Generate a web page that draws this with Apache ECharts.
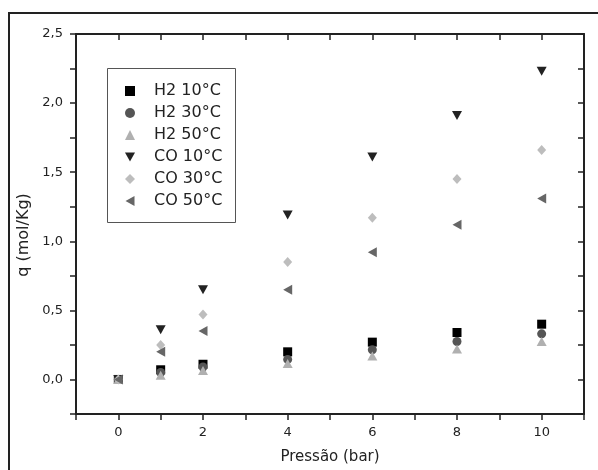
<!DOCTYPE html>
<html>
<head>
<meta charset="utf-8">
<script src="https://cdn.jsdelivr.net/npm/echarts@6/dist/echarts.min.js"></script>
<style>html,body{margin:0;padding:0;background:#fff;}#c{width:598px;height:470px;}</style>
</head>
<body>
<div id="c"></div>
<script>
const pressure = [0, 1, 2, 4, 6, 8, 10];
const h2_10 = [0, 0.07, 0.11, 0.20, 0.27, 0.34, 0.40];
const h2_30 = [0, 0.05, 0.09, 0.145, 0.215, 0.275, 0.33];
const h2_50 = [0, 0.03, 0.065, 0.115, 0.17, 0.22, 0.275];
const co_10 = [0, 0.36, 0.65, 1.19, 1.61, 1.91, 2.23];
const co_30 = [0, 0.25, 0.47, 0.85, 1.17, 1.45, 1.66];
const co_50 = [0, 0.20, 0.35, 0.65, 0.92, 1.12, 1.31];
const seriesNames = ['H2 10°C', 'H2 30°C', 'H2 50°C', 'CO 10°C', 'CO 30°C', 'CO 50°C'];
const xTickLabels = ['0', '2', '4', '6', '8', '10'];
const yTickLabels = ['0,0', '0,5', '1,0', '1,5', '2,0', '2,5'];

const FONT = 'DejaVu Sans';
const pair = arr => pressure.map((p, i) => [p, arr[i]]);

const DOWN = 'path://M0,0 L10,0 L5,9 Z';
const LEFT = 'path://M9,0 L9,10 L0,5 Z';

const styles = [
  {data: h2_10, symbol: 'rect', size: 9, rot: 0, color: '#000000', icon: 'rect'},
  {data: h2_30, symbol: 'circle', size: 9, rot: 0, color: '#555555', icon: 'circle'},
  {data: h2_50, symbol: 'triangle', size: [10, 9], rot: 0, color: '#b0b0b0', icon: 'triangle'},
  {data: co_10, symbol: 'triangle', size: [10, 9], rot: 180, color: '#222222', icon: DOWN},
  {data: co_30, symbol: 'diamond', size: [9, 10], rot: 0, color: '#bdbdbd', icon: 'diamond'},
  {data: co_50, symbol: 'triangle', size: [10, 9], rot: 90, color: '#666666', icon: LEFT}
];

const chart = echarts.init(document.getElementById('c'), null, {renderer: 'canvas'});

const axisLine = {show: true, onZero: false, lineStyle: {color: '#222', width: 2}};
const xLabelFmt = v => {
  const s = String(Math.round(v));
  return (Math.abs(v - Math.round(v)) < 1e-9 && xTickLabels.indexOf(s) >= 0) ? s : '';
};
const yLabelFmt = v => {
  const s = v.toFixed(1).replace('.', ',');
  return (Math.abs(v * 2 - Math.round(v * 2)) < 1e-9 && yTickLabels.indexOf(s) >= 0) ? s : '';
};

chart.setOption({
  backgroundColor: '#ffffff',
  animation: false,
  grid: {left: 76, top: 34, right: 14, bottom: 56, containLabel: false},
  xAxis: [
    {
      type: 'value', min: -1, max: 11, interval: 1, position: 'bottom',
      name: 'Pressão (bar)', nameLocation: 'middle', nameGap: 36,
      nameTextStyle: {fontFamily: FONT, fontSize: 15, color: '#222'},
      axisLine: axisLine,
      axisTick: {show: true, inside: false, length: 6, lineStyle: {color: '#222', width: 1.5}},
      axisLabel: {formatter: xLabelFmt, fontFamily: FONT, fontSize: 13, color: '#222', margin: 12},
      splitLine: {show: false}
    },
    {
      type: 'value', min: -1, max: 11, interval: 1, position: 'top',
      axisLine: axisLine,
      axisTick: {show: true, inside: true, length: 6, lineStyle: {color: '#222', width: 1.5}},
      axisLabel: {show: false},
      splitLine: {show: false}
    }
  ],
  yAxis: [
    {
      type: 'value', min: -0.25, max: 2.5, interval: 0.25, position: 'left',
      name: 'q (mol/Kg)', nameLocation: 'middle', nameGap: 44, nameRotate: 90,
      nameTextStyle: {fontFamily: FONT, fontSize: 16, color: '#222', padding: [0, 22, 0, 0]},
      axisLine: axisLine,
      axisTick: {show: true, inside: false, length: 6, lineStyle: {color: '#222', width: 1.5}},
      axisLabel: {formatter: yLabelFmt, fontFamily: FONT, fontSize: 13, color: '#222', margin: 13},
      splitLine: {show: false}
    },
    {
      type: 'value', min: -0.25, max: 2.5, interval: 0.25, position: 'right',
      axisLine: axisLine,
      axisTick: {show: true, inside: true, length: 6, lineStyle: {color: '#222', width: 1.5}},
      axisLabel: {show: false},
      splitLine: {show: false}
    }
  ],
  legend: {
    orient: 'vertical', left: 125, top: 83,
    itemWidth: 10, itemHeight: 10, itemGap: 6,
    padding: 0,
    textStyle: {fontFamily: FONT, fontSize: 16, color: '#222', lineHeight: 16, padding: [0, 0, 0, 14]},
    data: seriesNames.map((n, i) => ({name: n, icon: styles[i].icon, itemStyle: {color: styles[i].color}}))
  },
  graphic: [
    {type: 'rect', shape: {x: 9, y: 13, width: 600, height: 470}, style: {fill: 'none', stroke: '#222', lineWidth: 2}, silent: true, z: 100},
    {type: 'rect', shape: {x: 107.5, y: 68.5, width: 128, height: 154}, style: {fill: 'none', stroke: '#555', lineWidth: 1}, silent: true, z: 100}
  ],
  series: styles.map((s, i) => ({
    name: seriesNames[i],
    type: 'scatter',
    xAxisIndex: 0, yAxisIndex: 0,
    symbol: s.symbol,
    symbolSize: s.size,
    symbolRotate: s.rot,
    itemStyle: {color: s.color, opacity: 1},
    data: pair(s.data)
  }))
});
</script>
</body>
</html>
